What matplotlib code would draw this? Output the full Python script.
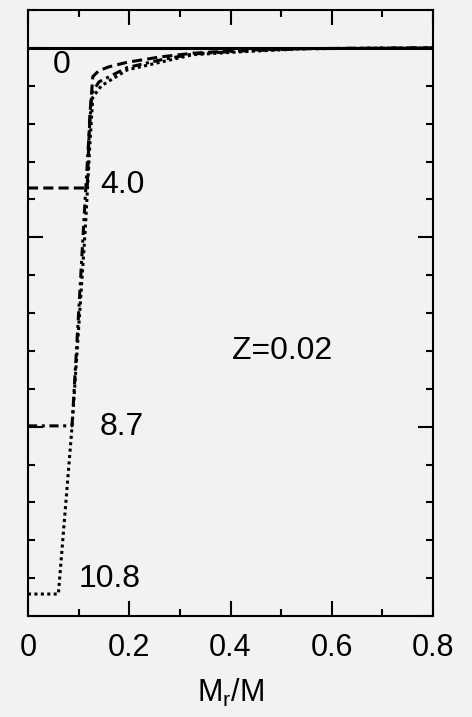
import numpy as np
import matplotlib
matplotlib.use("Agg")
import matplotlib.pyplot as plt
from matplotlib.ticker import MultipleLocator

plt.rcParams['font.family'] = ['Liberation Sans', 'DejaVu Sans']

# hydrogen profiles at several ages (labels in Gyr)
x_age0 = [0.0, 0.8]
y_age0 = [0.75, 0.75]

x_age4 = [0.0, 0.117, 0.122, 0.128, 0.14, 0.16, 0.196, 0.261, 0.326, 0.425, 0.55, 0.8]
y_age4 = [0.565, 0.565, 0.66, 0.712, 0.72, 0.725, 0.731, 0.738, 0.743, 0.747, 0.749, 0.75]

x_age87 = [0.0, 0.087, 0.10, 0.112, 0.12, 0.126, 0.14, 0.196, 0.261, 0.326, 0.425, 0.55, 0.8]
y_age87 = [0.251, 0.251, 0.40, 0.54, 0.63, 0.69, 0.705, 0.724, 0.734, 0.742, 0.746, 0.749, 0.75]

x_age108 = [0.0, 0.06, 0.087, 0.113, 0.122, 0.128, 0.145, 0.196, 0.261, 0.326, 0.425, 0.55, 0.8]
y_age108 = [0.029, 0.029, 0.25, 0.509, 0.62, 0.685, 0.70, 0.721, 0.731, 0.741, 0.745, 0.749, 0.75]

age_labels = ["0", "4.0", "8.7", "10.8"]
label_pos = [(0.067, 0.728), (0.186, 0.569), (0.186, 0.25), (0.162, 0.049)]

bg = '#f2f2f2'
fig = plt.figure(figsize=(4.72, 7.17), dpi=100, facecolor=bg)
ax = fig.add_axes([28/472, 101/717, 405/472, 606/717])
ax.set_facecolor(bg)

lw = 2.2
ax.plot(x_age0, y_age0, color='black', lw=lw, ls='-')
ax.plot(x_age4, y_age4, color='black', lw=lw, ls=(0, (3.3, 1.7)))
ax.plot(x_age87, y_age87, color='black', lw=lw, ls=(0, (3, 1.5, 1, 1.5)))
ax.plot(x_age108, y_age108, color='black', lw=lw, ls=(0, (1, 1.1)))

for lab, (tx, ty) in zip(age_labels, label_pos):
    ax.text(tx, ty, lab, fontsize=23, ha='center', va='center')
ax.text(0.502, 0.35, "Z=0.02", fontsize=23, ha='center', va='center')

ax.set_xlim(0, 0.8)
ax.set_ylim(0, 0.8)
ax.xaxis.set_major_locator(MultipleLocator(0.2))
ax.xaxis.set_minor_locator(MultipleLocator(0.1))
ax.yaxis.set_major_locator(MultipleLocator(0.25))
ax.yaxis.set_minor_locator(MultipleLocator(0.05))
ax.set_xticks([0, 0.2, 0.4, 0.6, 0.8])
ax.set_xticklabels(["0", "0.2", "0.4", "0.6", "0.8"])

ax.tick_params(which='both', direction='in', top=True, right=True, width=1.5,
               labelleft=False)
ax.tick_params(which='major', length=10.5, labelsize=22, pad=12)
ax.tick_params(which='minor', length=5)
for s in ax.spines.values():
    s.set_linewidth(1.5)

ax.set_xlabel(r"M$_\mathregular{r}$/M", fontsize=22, labelpad=10)

fig.savefig("out.png", dpi=100, facecolor=bg)
